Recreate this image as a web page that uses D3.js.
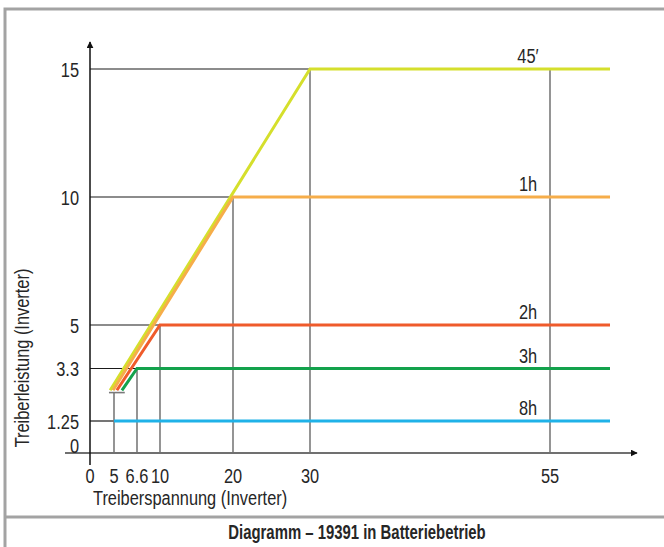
<!DOCTYPE html>
<html>
<head>
<meta charset="utf-8">
<script src="https://cdn.jsdelivr.net/npm/d3@7"></script>
<style>
  body { margin: 0; background: #fff; }
  svg { display: block; }
  text { font-family: "Liberation Sans", Arial, sans-serif; fill: #262626; }
</style>
</head>
<body>
<div id="chart"></div>
<script>
var width = 664, height = 547;

// tick values (x axis is schematic, not to scale)
var xTicks = [0, 5, 6.6, 10, 20, 30, 55];
var xTickLabels = ["0", "5", "6.6", "10", "20", "30", "55"];
var yTicks = [0, 1.25, 3.3, 5, 10, 15];
var yTickLabels = ["0", "1.25", "3.3", "5", "10", "15"];

// series: runtime label, colour, points [spannung, leistung]
var seriesNames = ["45′", "1h", "2h", "3h", "8h"];
var seriesColors = ["#d5df2c", "#f6ad4a", "#ef5b2b", "#13a24c", "#1fb2e8"];
var seriesPoints = [
    [[4.2, 2.45], [30, 15], [61.25, 15]],
    [[4.8, 2.45], [20, 10], [61.25, 10]],
    [[5.2, 2.45], [10, 5], [61.25, 5]],
    [[5.55, 2.45], [6.6, 3.3], [61.25, 3.3]],
    [[5, 1.25], [61.25, 1.25]]
];

// guide lines: horizontal from axis to the knee, vertical from knee down
var hGuides = [[15, 30], [10, 20], [5, 10], [3.3, 6.6], [1.25, 5]];
var vGuides = [[30, 15], [20, 10], [10, 5], [6.6, 3.3], [5, 2.36], [55, 15]];
var bracket = [3.95, 5.75, 2.36];

var svg = d3.select("#chart").append("svg")
    .attr("width", width)
    .attr("height", height);

var x = d3.scaleLinear()
    .domain(xTicks)
    .range([90, 114, 137, 160, 233, 310, 550]);

var y = d3.scaleLinear()
    .domain([0, 15])
    .range([453, 69]);

// condensed look: squeeze text horizontally
function label(g, px, py, size, str, sx) {
    return g.append("text")
        .attr("transform", "translate(" + px + "," + py + ") scale(" + (sx || 0.78) + ",1)")
        .style("font-size", size + "px")
        .text(str);
}

// frame
svg.append("rect")
    .attr("x", 5).attr("y", 9)
    .attr("width", 720).attr("height", 560)
    .attr("fill", "none")
    .attr("stroke", "#a3a3a3")
    .attr("stroke-width", 3);
svg.append("line")
    .attr("x1", 5).attr("x2", 664)
    .attr("y1", 517).attr("y2", 517)
    .attr("stroke", "#a3a3a3")
    .attr("stroke-width", 3);

var defs = svg.append("defs");
defs.append("marker")
    .attr("id", "arrow")
    .attr("viewBox", "0 0 10 10")
    .attr("refX", 9).attr("refY", 5)
    .attr("markerWidth", 7).attr("markerHeight", 7)
    .attr("markerUnits", "userSpaceOnUse")
    .attr("orient", "auto")
    .append("path")
    .attr("d", "M0,0L10,5L0,10Z")
    .attr("fill", "#111");

// guides
svg.append("g").selectAll("line")
    .data(hGuides)
    .enter().append("line")
    .attr("x1", x(0))
    .attr("x2", function (d) { return x(d[1]); })
    .attr("y1", function (d) { return y(d[0]); })
    .attr("y2", function (d) { return y(d[0]); })
    .attr("stroke", "#1a1a1a")
    .attr("stroke-width", 1.2);

svg.append("g").selectAll("line")
    .data(vGuides)
    .enter().append("line")
    .attr("x1", function (d) { return x(d[0]); })
    .attr("x2", function (d) { return x(d[0]); })
    .attr("y1", function (d) { return y(d[1]); })
    .attr("y2", y(0))
    .attr("stroke", "#7a7a7a")
    .attr("stroke-width", 1.6);

svg.append("line")
    .attr("x1", x(bracket[0])).attr("x2", x(bracket[1]))
    .attr("y1", y(bracket[2])).attr("y2", y(bracket[2]))
    .attr("stroke", "#7a7a7a")
    .attr("stroke-width", 1.6);

// axes
svg.append("line")
    .attr("x1", 65).attr("x2", 637)
    .attr("y1", y(0)).attr("y2", y(0))
    .attr("stroke", "#707070")
    .attr("stroke-width", 2)
    .attr("marker-end", "url(#arrow)");
svg.append("line")
    .attr("x1", x(0)).attr("x2", x(0))
    .attr("y1", 465).attr("y2", 42)
    .attr("stroke", "#111")
    .attr("stroke-width", 1.5)
    .attr("marker-end", "url(#arrow)");

// series lines
var line = d3.line()
    .x(function (d) { return x(d[0]); })
    .y(function (d) { return y(d[1]); });

svg.append("g").selectAll("path")
    .data(seriesPoints)
    .enter().append("path")
    .attr("d", line)
    .attr("fill", "none")
    .attr("stroke", function (d, i) { return seriesColors[i]; })
    .attr("stroke-width", 3);

var labels = svg.append("g").attr("text-anchor", "middle");
seriesPoints.forEach(function (d, i) {
    label(labels, 528, y(d[d.length - 1][1]) - 6, 21, seriesNames[i]);
});

// tick labels
var yLab = svg.append("g").attr("text-anchor", "end");
yTicks.forEach(function (d, i) {
    label(yLab, 79, y(d) + (d === 0 ? -0.5 : 7.5), 21, yTickLabels[i]);
});

var xLab = svg.append("g").attr("text-anchor", "middle");
xTicks.forEach(function (d, i) {
    label(xLab, x(d), 483, 21, xTickLabels[i]);
});

// axis titles
label(svg, 93, 505, 21, "Treiberspannung (Inverter)");

svg.append("text")
    .attr("transform", "translate(29,358) rotate(-90) scale(0.78,1)")
    .attr("text-anchor", "middle")
    .style("font-size", "21px")
    .text("Treiberleistung (Inverter)");

label(svg, 357, 539, 20, "Diagramm – 19391 in Batteriebetrieb", 0.745)
    .attr("text-anchor", "middle")
    .style("font-weight", "bold");
</script>
</body>
</html>
